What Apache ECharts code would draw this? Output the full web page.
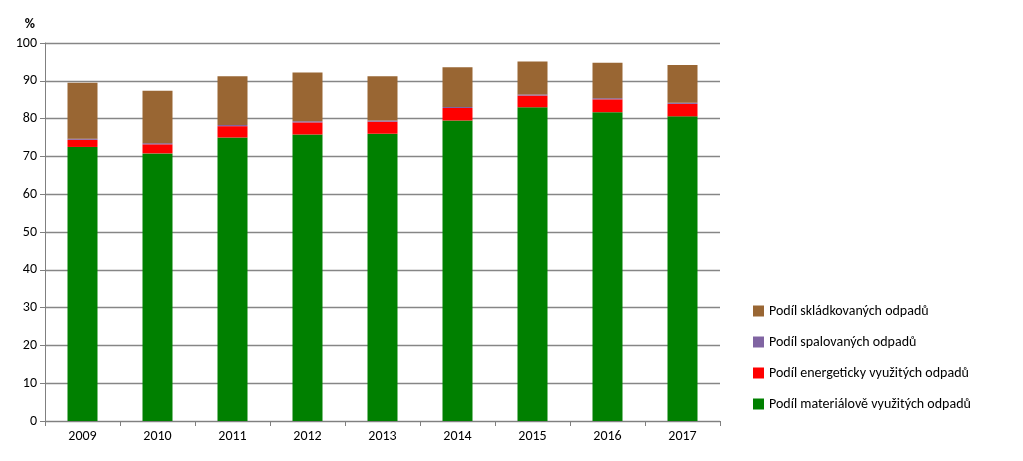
<!DOCTYPE html><html><head><meta charset="utf-8"><script src="https://cdn.jsdelivr.net/npm/echarts@6/dist/echarts.min.js"></script></head><body style="margin:0"><div id="c" style="width:1023px;height:461px"></div><script>
const years=['2009','2010','2011','2012','2013','2014','2015','2016','2017'];
const material=[72.5,70.8,75.0,75.8,76.0,79.5,83.0,81.7,80.6];
const energy=[1.9,2.4,3.0,3.2,3.2,3.3,3.1,3.4,3.3];
const burned=[0.3,0.3,0.3,0.3,0.3,0.3,0.3,0.3,0.3];
const landfill=[14.8,13.9,12.9,12.9,11.7,10.5,8.7,9.4,10.0];
const names=['Podíl materiálově využitých odpadů','Podíl energeticky využitých odpadů','Podíl spalovaných odpadů','Podíl skládkovaných odpadů'];
const colors=['#008000','#ff0000','#8064a2','#996633'];
const datas=[material,energy,burned,landfill];
const ch=echarts.init(document.getElementById('c'));
const legendY=[400,369,338,307];
ch.setOption({animation:false,textStyle:{fontFamily:'Calibri, Carlito, Liberation Sans, sans-serif'},
grid:{left:45,right:303,top:43,bottom:40},
legend:names.map((n,i)=>({data:[n],left:748,top:legendY[i]-8,itemWidth:11,itemHeight:11,icon:'rect',textStyle:{fontSize:14,color:'#000'}})),
xAxis:{type:'category',data:years,axisLine:{lineStyle:{color:'#808080'}},axisTick:{show:true,lineStyle:{color:'#808080'}},axisLabel:{fontSize:14,color:'#000'}},
yAxis:{type:'value',min:0,max:100,interval:10,name:'%',nameLocation:'end',nameGap:12,nameTextStyle:{fontSize:14,fontWeight:'bold',color:'#000',align:'right',padding:[0,10,0,0]},axisLine:{show:true,lineStyle:{color:'#808080'}},axisTick:{show:true,lineStyle:{color:'#808080'}},axisLabel:{fontSize:14,color:'#000'},splitLine:{lineStyle:{color:'#868686',width:1.3}}},
series:datas.map((d,i)=>({name:names[i],type:'bar',stack:'a',data:d,barWidth:'40%',itemStyle:{color:colors[i]}}))
});
</script></body></html>
